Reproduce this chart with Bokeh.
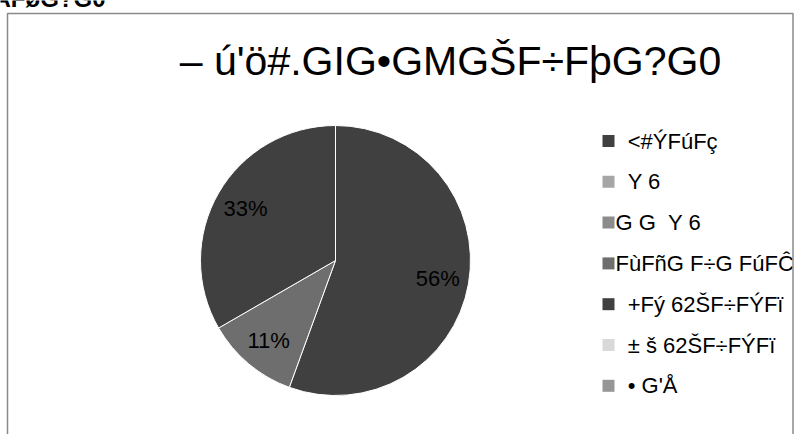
import numpy as np
from bokeh.plotting import figure
from bokeh.models import Range1d, ColumnDataSource
from bokeh.core.properties import value
from bokeh.embed import file_html
from bokeh.resources import INLINE

# ---- data ----
header_text = "AFøG?G0"
title_text = "– ú'ö#.GIG•GMGŠF÷FþG?G0"
categories = ["\u00a0\u00a0<#ÝFúFç", "\u00a0\u00a0Y 6", "G G\u00a0\u00a0Y 6", "FùFñG F÷G FúFĈ",
              "\u00a0\u00a0+Fý 62ŠF÷FÝFï", "\u00a0\u00a0± š 62ŠF÷FÝFï", "\u00a0\u00a0• G'Å"]
values = [5, 0, 0, 1, 3, 0, 0]
colors = ["#404040", "#a6a6a6", "#8c8c8c", "#6e6e6e", "#404040", "#d9d9d9", "#969696"]

FONT = "Liberation Sans"
W, H = 794, 434

p = figure(width=W, height=H, x_range=Range1d(0, W), y_range=Range1d(0, H),
           output_backend="svg", toolbar_location=None,
           x_axis_type=None, y_axis_type=None, min_border=0,
           outline_line_color=None, background_fill_color="white",
           border_fill_color="white")

# ---- pie ----
cx, cy, r = 335, H - 260, 135
vals = np.array(values, dtype=float)
fr = vals / vals.sum()
ends = np.cumsum(fr)
starts = ends - fr
nz = fr > 0
start_angle = np.pi / 2 - ends * 2 * np.pi
end_angle = np.pi / 2 - starts * 2 * np.pi
src = ColumnDataSource(dict(s=start_angle[nz], e=end_angle[nz],
                            c=[c for c, k in zip(colors, nz) if k]))
p.wedge(x=cx, y=cy, radius=r, start_angle="s", end_angle="e", fill_color="c",
        line_color="white", line_width=1, source=src)

mid = np.pi / 2 - (starts + ends) / 2 * 2 * np.pi
lab_src = ColumnDataSource(dict(
    x=(cx + 0.77 * r * np.cos(mid))[nz],
    y=(cy + 0.77 * r * np.sin(mid))[nz],
    t=[f"{round(f * 100)}%" for f in fr[nz]]))
p.text(x="x", y="y", text="t", source=lab_src, text_align="center",
       text_baseline="middle", text_font=value(FONT), text_font_size="22px",
       text_color="#000000")

# ---- legend ----
row0, step = 140.5, 40.8
ly = [H - (row0 + i * step) for i in range(len(categories))]
leg = ColumnDataSource(dict(y=ly, t=categories, c=colors))
p.rect(x=608, y="y", width=12, height=12, fill_color="c", line_color=None, source=leg)
p.text(x=615, y="y", text="t", source=leg, text_align="left", text_baseline="middle",
       text_font=value(FONT), text_font_size="22px", text_color="#000000")

# ---- title & header ----
p.text(x=[450], y=[H - 60], text=[title_text], text_align="center",
       text_baseline="middle", text_font=value(FONT), text_font_size="41px",
       text_color="#000000")
p.text(x=[-7], y=[H + 2], text=[header_text], text_align="left",
       text_baseline="middle", text_font=value(FONT), text_font_size="24px",
       text_font_style="bold", text_color="#000000")

# ---- chart box border ----
p.quad(left=[793], right=[W + 10], bottom=[-10], top=[H - 13], fill_color="white",
       line_color=None)
p.line([7, 7, 792.5, 792.5], [-10, H - 13, H - 13, -10], line_color="#8a8a8a",
       line_width=1.5)

open("out.html", "w").write(file_html(p, INLINE))
